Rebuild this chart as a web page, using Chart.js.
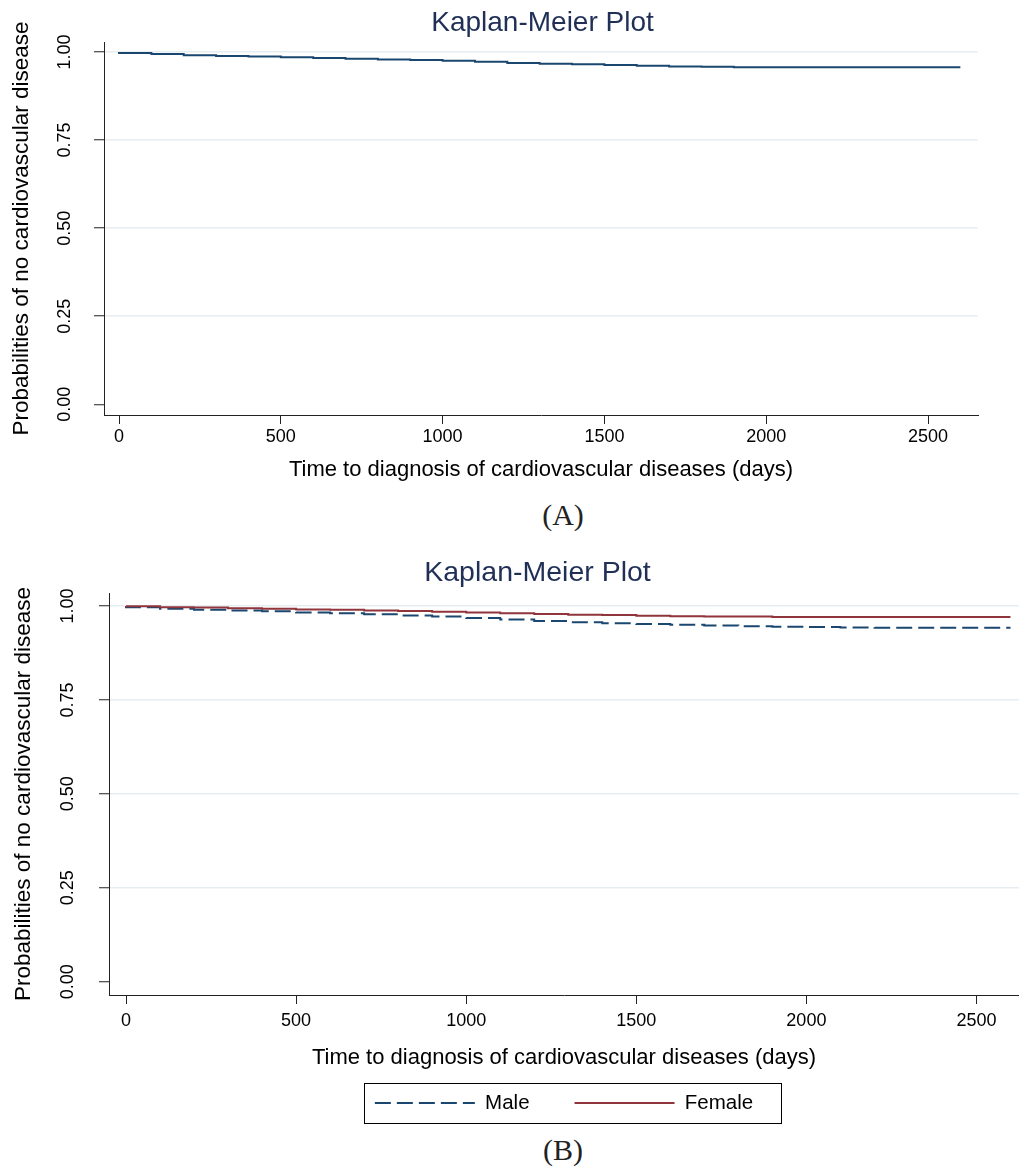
<!DOCTYPE html>
<html>
<head>
<meta charset="utf-8">
<title>Kaplan-Meier Plot</title>
<script src="https://cdn.jsdelivr.net/npm/chart.js@4.4.1/dist/chart.umd.min.js"></script>
<style>
    html, body { margin: 0; padding: 0; background: #fff; }
    body { width: 1019px; height: 1168px; position: relative; overflow: hidden; }
    .panel { position: absolute; left: 0; width: 1019px; }
    #panel-a { top: 0; height: 490px; }
    #panel-b { top: 540px; height: 585px; }
    .caption {
        position: absolute; left: 463px; width: 200px; text-align: center;
        font-family: "Liberation Serif", "Times New Roman", serif;
        font-size: 30px; line-height: 30px; color: #222;
    }
</style>
</head>
<body>
<div class="panel" id="panel-a"><canvas id="km-all"></canvas></div>
<div class="caption" style="top:500px">(A)</div>
<div class="panel" id="panel-b"><canvas id="km-sex"></canvas></div>
<div class="caption" style="top:1135px">(B)</div>

<script>
// survival estimates, every 100 days
const days = [0, 100, 200, 300, 400, 500, 600, 700, 800, 900, 1000, 1100, 1200, 1300,
    1400, 1500, 1600, 1700, 1800, 1900, 2000, 2100, 2200, 2300, 2400, 2500, 2600];
const survAll = [1.000, 0.997, 0.994, 0.991, 0.989, 0.987, 0.985, 0.983, 0.981, 0.979,
    0.977, 0.975, 0.972, 0.969, 0.967, 0.965, 0.963, 0.961, 0.959, 0.958, 0.957, 0.957,
    0.957, 0.957, 0.957, 0.957, 0.957];
const survMale = [1.000, 0.997, 0.993, 0.990, 0.988, 0.986, 0.983, 0.981, 0.978, 0.975,
    0.972, 0.968, 0.964, 0.960, 0.957, 0.954, 0.952, 0.950, 0.948, 0.946, 0.945, 0.944,
    0.943, 0.942, 0.942, 0.942, 0.942];
const survFemale = [1.000, 0.999, 0.997, 0.996, 0.994, 0.993, 0.991, 0.990, 0.988, 0.987,
    0.985, 0.983, 0.981, 0.979, 0.977, 0.976, 0.974, 0.973, 0.972, 0.972, 0.971, 0.971,
    0.971, 0.971, 0.971, 0.971, 0.971];
const groups = ["Male", "Female"];
const xTicks = [0, 500, 1000, 1500, 2000, 2500];
const yTicks = [0, 0.25, 0.5, 0.75, 1];

const plotTitle = "Kaplan-Meier Plot";
const xTitle = "Time to diagnosis of cardiovascular diseases (days)";
const yTitle = "Probabilities of no cardiovascular disease";

Chart.defaults.font.family = '"Liberation Sans", Arial, sans-serif';
Chart.defaults.color = "#000";

const navy = "#1a476f";
const maroon = "#90353b";
const gridColor = "#e6eef2";
const axisColor = "#222";

function points(ys) {
    return days.map((d, i) => ({ x: d, y: ys[i] }));
}

function fixTicks(values) {
    return function (scale) {
        scale.ticks = values.map(v => ({ value: v }));
    };
}

// title drawn at a set centre, like the stata graph
const panelTitle = {
    id: "panelTitle",
    afterDraw(chart, args, opts) {
        const ctx = chart.ctx;
        ctx.save();
        ctx.font = opts.size + "px " + Chart.defaults.font.family;
        ctx.fillStyle = opts.color;
        ctx.textAlign = "center";
        ctx.textBaseline = "middle";
        ctx.fillText(opts.text, opts.x, opts.y);
        ctx.restore();
    }
};

// box around the legend
const legendFrame = {
    id: "legendFrame",
    afterDraw(chart, args, opts) {
        const lg = chart.legend;
        if (!lg || !lg.options.display || !lg.legendHitBoxes.length) return;
        const hb = lg.legendHitBoxes;
        const first = hb[0];
        const last = hb[hb.length - 1];
        const cy = first.top + first.height / 2;
        const left = Math.round(first.left - opts.padLeft) + 0.5;
        const right = Math.round(last.left + last.width + opts.padRight) + 0.5;
        const top = Math.round(cy - opts.halfHeight) + 0.5;
        const bottom = Math.round(cy + opts.halfHeight) + 0.5;
        const ctx = chart.ctx;
        ctx.save();
        ctx.strokeStyle = "#000";
        ctx.lineWidth = 1;
        ctx.setLineDash([]);
        ctx.strokeRect(left, top, right - left, bottom - top);
        ctx.restore();
    }
};

// legend samples take dash and width from the line, not the point
function lineLabels(chart) {
    const items = Chart.defaults.plugins.legend.labels.generateLabels(chart);
    items.forEach(item => {
        const ds = chart.data.datasets[item.datasetIndex];
        item.lineDash = ds.borderDash || [];
        item.lineWidth = ds.borderWidth;
        item.strokeStyle = ds.borderColor;
    });
    return items;
}

function scales(o) {
    return {
        x: {
            type: "linear",
            min: o.xMin,
            max: o.xMax,
            afterBuildTicks: fixTicks(xTicks),
            afterFit: function (s) { s.height = o.xHeight; },
            border: { color: axisColor, width: 1 },
            grid: { drawOnChartArea: false, tickLength: 9, tickColor: axisColor, tickWidth: 1 },
            ticks: {
                font: { size: 18 },
                padding: o.xTickPad,
                maxRotation: 0,
                autoSkip: false,
                callback: v => String(v)
            },
            title: {
                display: true,
                text: xTitle,
                font: { size: 22 },
                padding: { top: 0, bottom: o.xTitlePad }
            }
        },
        y: {
            type: "linear",
            min: o.yMin,
            max: o.yMax,
            afterBuildTicks: fixTicks(yTicks),
            afterFit: function (s) { s.width = o.yWidth; },
            border: { color: axisColor, width: 1 },
            grid: {
                color: c => (c.tick && c.tick.value === 0) ? "rgba(0,0,0,0)" : gridColor,
                lineWidth: 1.5,
                tickLength: 10,
                tickColor: axisColor,
                tickWidth: 1
            },
            ticks: {
                font: { size: 18 },
                padding: o.yTickPad,
                minRotation: 90,
                maxRotation: 90,
                crossAlign: "center",
                callback: v => v.toFixed(2)
            },
            title: {
                display: true,
                text: yTitle,
                font: { size: 22.5 },
                padding: { top: o.yTitlePad, bottom: 0 }
            }
        }
    };
}

// (A) overall
new Chart(document.getElementById("km-all"), {
    type: "line",
    data: {
        datasets: [{
            label: "All",
            data: points(survAll),
            borderColor: navy,
            borderWidth: 2,
            pointRadius: 0,
            stepped: "after",
            fill: false
        }]
    },
    options: {
        responsive: true,
        maintainAspectRatio: false,
        animation: false,
        events: [],
        layout: { padding: { top: 42, right: 41, left: 0, bottom: 0 } },
        scales: scales({
            xMin: -46.4, xMax: 2654.5, yMin: -0.0304, yMax: 1.0284,
            xHeight: 75, yWidth: 104, xTickPad: 2, yTickPad: 11,
            xTitlePad: 6.8, yTitlePad: 8.7
        }),
        plugins: {
            legend: { display: false },
            tooltip: { enabled: false },
            panelTitle: { text: plotTitle, x: 542.5, y: 23.6, size: 28, color: "#1f2f56" },
            legendFrame: { padLeft: 11, padRight: 28, halfHeight: 20 }
        }
    },
    plugins: [panelTitle, legendFrame]
});

// (B) by sex
new Chart(document.getElementById("km-sex"), {
    type: "line",
    data: {
        datasets: [
            {
                label: groups[0],
                data: points(survMale),
                borderColor: navy,
                backgroundColor: navy,
                borderWidth: 2,
                borderDash: [16, 6],
                pointRadius: 0,
                stepped: "after",
                fill: false,
                order: 1
            },
            {
                label: groups[1],
                data: points(survFemale),
                borderColor: maroon,
                backgroundColor: maroon,
                borderWidth: 2,
                pointRadius: 0,
                stepped: "after",
                fill: false,
                order: 0
            }
        ]
    },
    options: {
        responsive: true,
        maintainAspectRatio: false,
        animation: false,
        events: [],
        layout: { padding: { top: 53, right: 0, left: 0, bottom: 1.75 } },
        scales: scales({
            xMin: -50, xMax: 2625, yMin: -0.0354, yMax: 1.0346,
            xHeight: 52.75, yWidth: 109, xTickPad: 6, yTickPad: 13.5,
            xTitlePad: -23.4, yTitlePad: 10.4
        }),
        plugins: {
            legend: {
                display: true,
                position: "bottom",
                fullSize: false,
                labels: {
                    usePointStyle: true,
                    pointStyle: "line",
                    pointStyleWidth: 100,
                    padding: 45,
                    color: "#000",
                    font: { size: 20.5 },
                    generateLabels: lineLabels,
                    sort: (a, b) => a.datasetIndex - b.datasetIndex
                }
            },
            tooltip: { enabled: false },
            panelTitle: { text: plotTitle, x: 537.5, y: 33.4, size: 28.5, color: "#1f2f56" },
            legendFrame: { padLeft: 11, padRight: 28, halfHeight: 20 }
        }
    },
    plugins: [panelTitle, legendFrame]
});
</script>
</body>
</html>
